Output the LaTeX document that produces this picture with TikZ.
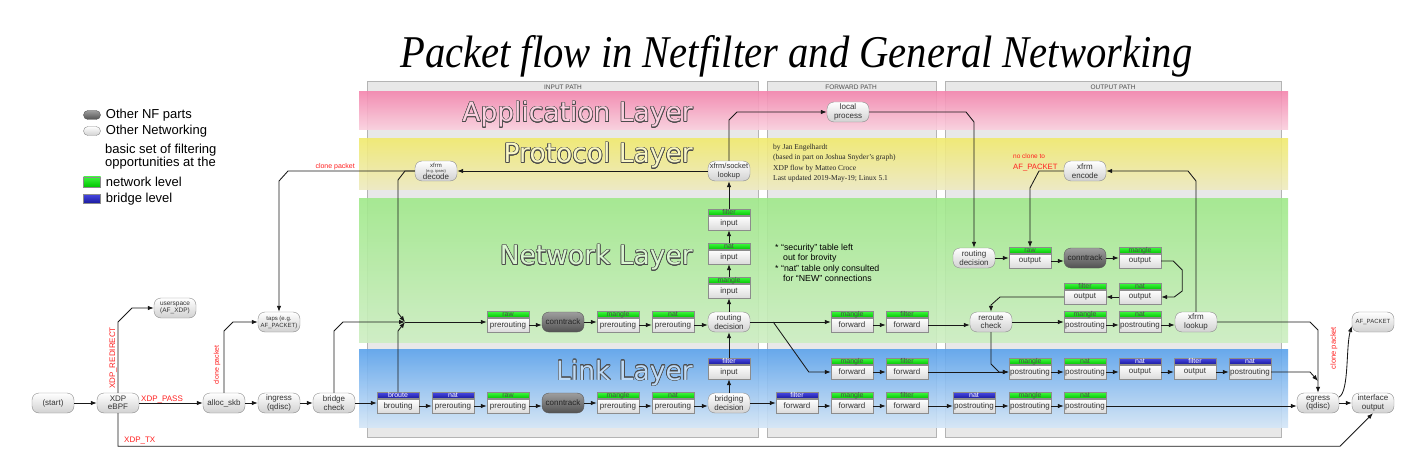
\documentclass[tikz,border=0pt]{standalone}
\usepackage{fontspec}
\setmainfont{Liberation Sans}
\newfontfamily\layerfont{DejaVu Sans}
\newfontfamily\seriffont{Liberation Serif}
\usepackage{graphicx}
\usepackage{contour}
\usepackage{xcolor}
\usepackage{tikz}
\usetikzlibrary{positioning, arrows.meta, calc}
\contourlength{0.6pt}

\definecolor{paneltone}{HTML}{E8E8E8}
\definecolor{panelline}{HTML}{B4B4B4}
\definecolor{apptop}{HTML}{F486AE}
\definecolor{appbot}{HTML}{FAD0DE}
\definecolor{prottop}{HTML}{F0EA6E}
\definecolor{protbot}{HTML}{EEEAC2}
\definecolor{nettop}{HTML}{A0E98A}
\definecolor{netbot}{HTML}{CDEEC2}
\definecolor{linktop}{HTML}{5AA2EC}
\definecolor{linkbot}{HTML}{D4E6F7}
\definecolor{nfgreentop}{HTML}{3CF53C}
\definecolor{nfgreenbot}{HTML}{00C400}
\definecolor{nfbluetop}{HTML}{4646E0}
\definecolor{nfbluebot}{HTML}{18189A}
\definecolor{nodetext}{HTML}{333333}
\definecolor{lblred}{HTML}{FF2020}

\tikzset{
  panel/.style={fill=paneltone, draw=panelline, line width=0.6pt},
  band/.style 2 args={top color=#1, bottom color=#2, fill opacity=0.9, draw=none},
  pathlbl/.style={inner sep=0pt, text=black!70, font=\fontsize{6.5}{6.5}\selectfont},
  layerlbl/.style={anchor=base east, inner sep=0pt, font=\layerfont\fontsize{26.5}{26.5}\selectfont},
  legendtxt/.style={inner sep=0pt, align=left, font=\fontsize{13}{10}\selectfont},
  pillbox/.style={rounded corners=7pt, draw=black!45, top color=white, bottom color=black!18,
    minimum width=42pt, minimum height=20pt, inner sep=0pt, align=center, text=nodetext,
    font=\fontsize{8}{8.5}\selectfont},
  nfpart/.style={pillbox, top color=black!38, bottom color=black!68, draw=black!65, text=black!85},
  tblbody/.style={draw=black!45, top color=white, bottom color=black!14, minimum width=42pt,
    minimum height=14pt, inner sep=0pt, text=nodetext, font=\fontsize{8}{8}\selectfont},
  hdgreen/.style={draw=black!45, top color=nfgreentop, bottom color=nfgreenbot, minimum width=42pt,
    minimum height=6pt, inner sep=0pt, text height=4.5pt, text depth=0.8pt, text=black!70,
    font=\fontsize{7}{7}\selectfont},
  hdblue/.style={hdgreen, top color=nfbluetop, bottom color=nfbluebot, text=white},
  flow/.style={draw=black!90, line width=0.85pt, -{Latex[length=6pt,width=4.5pt]}},
  redlbl/.style={text=lblred, inner sep=0pt, font=\fontsize{8}{8}\selectfont},
  credit/.style={anchor=north west, align=left, inner sep=0pt, text=black!85,
    font=\seriffont\fontsize{7.5}{10.5}\selectfont},
  notes/.style={anchor=north west, align=left, inner sep=0pt, font=\fontsize{8.8}{10.3}\selectfont}
}

% table box: name, centre, header style, header, body
\newcommand{\nftbl}[5]{%
  \node[tblbody] (#1) at ($(#2)+(0,3)$) {#5};
  \node[#3, above=0pt of #1] (#1-h) {#4};}
\newcommand{\hflow}[2]{\draw[flow] (#1.east) -- (#1.east -| #2.west);}

\begin{document}
\begin{tikzpicture}[x=1pt, y=-1pt]
  \useasboundingbox (0,0) rectangle (1412,462);
  \fill[white] (0,0) rectangle (1412,462);

  % title
  \node[anchor=base west, inner sep=0pt] (title) at (400,68)
    {\resizebox{792pt}{32pt}{\seriffont\itshape Packet flow in Netfilter and General Networking}};

  % path panels
  \draw[panel] (367,81) rectangle (758,437);
  \draw[panel] (767,81) rectangle (936,437);
  \draw[panel] (945,81) rectangle (1281,437);
  \node[pathlbl] (inhdr) at (563,87) {INPUT PATH};
  \node[pathlbl] (fwhdr) at (851,87) {FORWARD PATH};
  \node[pathlbl] (outhdr) at (1113,87) {OUTPUT PATH};

  % layer bands
  \path[band={apptop}{appbot}] (359,92) rectangle (1288,130);
  \path[band={prottop}{protbot}] (359,139) rectangle (1288,190);
  \path[band={nettop}{netbot}] (359,199) rectangle (1288,342);
  \path[band={linktop}{linkbot}] (359,349) rectangle (1288,427);
  \node[layerlbl] (applbl) at (693,122) {\contour{black!70}{\textcolor{white!60!apptop}{Application Layer}}};
  \node[layerlbl] (protlbl) at (693,163) {\contour{black!70}{\textcolor{white!60!prottop}{Protocol Layer}}};
  \node[layerlbl] (netlbl) at (693,265) {\contour{black!70}{\textcolor{white!60!nettop}{Network Layer}}};
  \node[layerlbl] (linklbl) at (693,380) {\contour{black!70}{\textcolor{white!60!linktop}{Link Layer}}};

  % legend
  \node[nfpart, minimum width=17pt, minimum height=9pt, rounded corners=4.5pt] (lgnf) at (92,115) {};
  \node[legendtxt, right=5pt of lgnf] (lgnftxt) {Other NF parts};
  \node[pillbox, minimum width=17pt, minimum height=9pt, rounded corners=4.5pt] (lgnet) at (92,131) {};
  \node[legendtxt, right=5pt of lgnet] (lgnettxt) {Other Networking};
  \node[legendtxt, anchor=west] (lgbasic) at (105,157) {basic set of filtering\\opportunities at the};
  \node[hdgreen, minimum width=17pt, minimum height=10pt] (lggreen) at (92,182) {};
  \node[legendtxt, right=5pt of lggreen] (lggreentxt) {network level};
  \node[hdblue, minimum width=17pt, minimum height=9pt] (lgblue) at (92,199) {};
  \node[legendtxt, right=5pt of lgblue] (lgbluetxt) {bridge level};

  % credits and notes
  \node[credit] (credits) at (773,144) {by Jan Engelhardt\\(based in part on Joshua Snyder’s graph)\\XDP flow by Matteo Croce\\Last updated 2019-May-19; Linux 5.1};
  \node[notes] (notes) at (775,244) {* “security” table left\\\hspace*{8pt}out for brovity\\* “nat” table only consulted\\\hspace*{8pt}for “NEW” connections};

  % ingress
  \node[pillbox] (start) at (53,403) {(start)};
  \node[pillbox] (xdp) at (118,403) {XDP\\eBPF};
  \node[pillbox] (allocskb) at (224,403) {alloc\_skb};
  \node[pillbox] (ingress) at (279,403) {ingress\\(qdisc)};
  \node[pillbox] (brcheck) at (334,403) {bridge\\check};
  \node[pillbox, font=\fontsize{6.5}{7}\selectfont] (userspace) at (175,308) {userspace\\(AF\_XDP)};
  \node[pillbox, font=\fontsize{6}{7}\selectfont] (taps) at (279,322) {taps (e.g.\\AF\_PACKET)};

  % application / protocol
  \node[pillbox] (localproc) at (848,112) {local\\process};
  \node[pillbox] (xfrmdec) at (436,171) {\fontsize{6}{6}\selectfont xfrm\\[-3pt] \fontsize{4}{4}\selectfont (e.g. ipsec)\\[-2pt] \fontsize{8}{8}\selectfont decode};
  \node[pillbox, font=\fontsize{7.5}{8.5}\selectfont] (socklookup) at (729,171) {xfrm/socket\\lookup};
  \node[pillbox] (xfrmenc) at (1085,171) {xfrm\\encode};

  % network layer, input
  \coordinate (merge) at (405,322);
  \nftbl{in-raw}{508,322}{hdgreen}{raw}{prerouting}
  \node[nfpart] (in-ct) at (563,322) {conntrack};
  \nftbl{in-mangle}{618,322}{hdgreen}{mangle}{prerouting}
  \nftbl{in-nat}{673,322}{hdgreen}{nat}{prerouting}
  \node[pillbox] (in-route) at (729,322) {routing\\decision};
  \nftbl{in-manglein}{729,288}{hdgreen}{mangle}{input}
  \nftbl{in-natin}{729,254}{hdgreen}{nat}{input}
  \nftbl{in-filterin}{729,220}{hdgreen}{filter}{input}

  % link layer, input
  \nftbl{br-broute}{398,403}{hdblue}{broute}{brouting}
  \nftbl{br-nat}{453,403}{hdblue}{nat}{prerouting}
  \nftbl{br-raw}{508,403}{hdgreen}{raw}{prerouting}
  \node[nfpart] (br-ct) at (563,403) {conntrack};
  \nftbl{br-mangle}{618,403}{hdgreen}{mangle}{prerouting}
  \nftbl{br-nat2}{673,403}{hdgreen}{nat}{prerouting}
  \node[pillbox] (br-decision) at (729,403) {bridging\\decision};
  \nftbl{br-filterin}{729,369}{hdblue}{filter}{input}

  % forward
  \nftbl{fw-mangle}{852,322}{hdgreen}{mangle}{forward}
  \nftbl{fw-filter}{907,322}{hdgreen}{filter}{forward}
  \nftbl{fwl-mangle}{852,369}{hdgreen}{mangle}{forward}
  \nftbl{fwl-filter}{907,369}{hdgreen}{filter}{forward}
  \nftbl{fwb-filter}{797,403}{hdblue}{filter}{forward}
  \nftbl{fwb-mangle}{852,403}{hdgreen}{mangle}{forward}
  \nftbl{fwb-filter2}{907,403}{hdgreen}{filter}{forward}

  % network layer, output
  \node[pillbox] (out-route) at (974,258) {routing\\decision};
  \nftbl{out-raw}{1030,258}{hdgreen}{raw}{output}
  \node[nfpart] (out-ct) at (1085,258) {conntrack};
  \nftbl{out-mangle}{1140,258}{hdgreen}{mangle}{output}
  \nftbl{out-nat}{1140,294}{hdgreen}{nat}{output}
  \nftbl{out-filter}{1085,294}{hdgreen}{filter}{output}
  \node[pillbox] (reroute) at (991,322) {reroute\\check};
  \nftbl{post-mangle}{1085,322}{hdgreen}{mangle}{postrouting}
  \nftbl{post-nat}{1140,322}{hdgreen}{nat}{postrouting}
  \node[pillbox] (xfrmlook) at (1196,322) {xfrm\\lookup};

  % link layer, output
  \nftbl{lo-mangle}{1030,369}{hdgreen}{mangle}{postrouting}
  \nftbl{lo-nat}{1085,369}{hdgreen}{nat}{postrouting}
  \nftbl{lo-natout}{1140,369}{hdblue}{nat}{output}
  \nftbl{lo-filterout}{1195,369}{hdblue}{filter}{output}
  \nftbl{lo-natpost}{1250,369}{hdblue}{nat}{postrouting}
  \nftbl{lb-nat}{974,403}{hdblue}{nat}{postrouting}
  \nftbl{lb-mangle}{1030,403}{hdgreen}{mangle}{postrouting}
  \nftbl{lb-nat2}{1085,403}{hdgreen}{nat}{postrouting}
  \node[pillbox] (egress) at (1318,403) {egress\\(qdisc)};
  \node[pillbox] (ifout) at (1373,403) {interface\\output};
  \node[pillbox, font=\fontsize{6}{7}\selectfont] (afpacket) at (1373,322) {AF\_PACKET};

  % red labels
  \node[redlbl, anchor=base west] (passlbl) at (141,401) {XDP\_PASS};
  \node[redlbl, rotate=90] (redirlbl) at (113,358) {XDP\_REDIRECT};
  \node[redlbl, anchor=base west] (txlbl) at (124,442) {XDP\_TX};
  \node[redlbl, rotate=90, font=\fontsize{7}{7}\selectfont] (clonea) at (217,365) {clone packet};
  \node[redlbl, anchor=east, font=\fontsize{7}{7}\selectfont] (cloneb) at (355,167) {clone packet};
  \node[redlbl, rotate=90, font=\fontsize{7.5}{7.5}\selectfont] (clonec) at (1334,348) {clone packet};
  \node[redlbl, anchor=base west, font=\fontsize{6.5}{6.5}\selectfont] (noclone) at (1013,159) {no clone to};
  \node[redlbl, anchor=base west, font=\fontsize{7.7}{7.7}\selectfont] (noclonepkt) at (1013,170) {AF\_PACKET};

  % ingress connectors
  \hflow{start}{xdp}
  \hflow{xdp}{allocskb}
  \hflow{allocskb}{ingress}
  \hflow{ingress}{brcheck}
  \draw[flow] (xdp.north) -- ($(xdp.north |- userspace.west)+(0,14)$) -- ($(xdp.north |- userspace.west)+(14,0)$) -- (userspace.west);
  \draw[flow] (xdp.south) -- ($(xdp.south |- ifout.south)+(0,33)$) -- ($(ifout.south)+(-33,33)$) -- (ifout.south);
  \draw[flow] (allocskb.north) -- ($(allocskb.north |- taps.west)+(0,9)$) -- ($(allocskb.north |- taps.west)+(9,0)$) -- (taps.west);
  \draw[flow] (xfrmdec.west) -- ($(taps.north |- xfrmdec.west)+(9,0)$) -- ($(taps.north |- xfrmdec.west)+(0,10)$) -- (taps.north);
  \draw[flow] (xfrmdec.west) -- (merge |- xfrmdec.west) -- ($(merge |- xfrmdec.west)+(-7,9)$) -- ($(merge)+(-7,-9)$) -- (merge);
  \draw[flow] (brcheck.north) -- ($(brcheck.north |- merge)+(0,9)$) -- ($(brcheck.north |- merge)+(9,0)$) -- (merge);
  \draw[flow] (br-broute-h.north) -- ($(merge)+(-7,9)$) -- (merge);

  % input path
  \draw[flow] (merge) -- (merge -| in-raw.west);
  \hflow{in-raw}{in-ct}
  \hflow{in-ct}{in-mangle}
  \hflow{in-mangle}{in-nat}
  \hflow{in-nat}{in-route}
  \draw[flow] (in-route.north) -- (in-manglein.south);
  \draw[flow] (in-manglein-h.north) -- (in-natin.south);
  \draw[flow] (in-natin-h.north) -- (in-filterin.south);
  \draw[flow] (in-filterin-h.north) -- (socklookup.south);
  \draw[flow] (socklookup.west) -- (xfrmdec.east);
  \draw[flow] (socklookup.north) -- ($(socklookup.north |- localproc.west)+(0,8)$) -- ($(socklookup.north |- localproc.west)+(8,0)$) -- (localproc.west);
  \draw[flow] (localproc.east) -- ($(out-route.north |- localproc.east)+(-8,0)$) -- ($(out-route.north |- localproc.east)+(0,10)$) -- (out-route.north);
  \hflow{brcheck}{br-broute}
  \hflow{br-broute}{br-nat}
  \hflow{br-nat}{br-raw}
  \hflow{br-raw}{br-ct}
  \hflow{br-ct}{br-mangle}
  \hflow{br-mangle}{br-nat2}
  \hflow{br-nat2}{br-decision}
  \draw[flow] (br-decision.north) -- (br-filterin.south);
  \draw[flow] (br-filterin-h.north) -- (in-route.south);

  % forward path
  \hflow{in-route}{fw-mangle}
  \coordinate (fwsplit) at ($(in-route.east)+(23,0)$);
  \draw[flow] (fwsplit) -- ($(fwl-mangle.west)+(-22,0)$) -- (fwl-mangle.west);
  \hflow{fw-mangle}{fw-filter}
  \hflow{fw-filter}{reroute}
  \hflow{fwl-mangle}{fwl-filter}
  \hflow{fwl-filter}{lo-mangle}
  \hflow{br-decision}{fwb-filter}
  \hflow{fwb-filter}{fwb-mangle}
  \hflow{fwb-mangle}{fwb-filter2}
  \hflow{fwb-filter2}{lb-nat}

  % output path
  \hflow{out-route}{out-raw}
  \hflow{out-raw}{out-ct}
  \hflow{out-ct}{out-mangle}
  \draw[flow] (out-mangle.east) -- ++(12,0) -- ++(9,9) -- ($(out-nat.east)+(21,-6)$) -- ($(out-nat.east)+(13,0)$) -- (out-nat.east);
  \draw[flow] (out-nat.west) -- (out-filter.east);
  \draw[flow] (out-filter.west) -- ($(reroute.north |- out-filter.west)+(9,0)$) -- ($(reroute.north |- out-filter.west)+(0,8)$) -- (reroute.north);
  \draw[flow] (xfrmenc.west) -- ($(out-raw-h.north |- xfrmenc.west)+(9,0)$) -- ($(out-raw-h.north |- xfrmenc.west)+(0,17)$) -- (out-raw-h.north);
  \hflow{reroute}{post-mangle}
  \hflow{post-mangle}{post-nat}
  \hflow{post-nat}{xfrmlook}
  \draw[flow] (xfrmlook.north) -- ($(xfrmlook.north |- xfrmenc.east)+(0,10)$) -- ($(xfrmlook.north |- xfrmenc.east)+(-8,0)$) -- (xfrmenc.east);
  \draw[flow] (reroute.south) -- ($(reroute.south |- lo-mangle.west)+(0,-8)$) -- ($(reroute.south |- lo-mangle.west)+(8,0)$) -- (lo-mangle.west);
  \hflow{lo-mangle}{lo-nat}
  \hflow{lo-nat}{lo-natout}
  \hflow{lo-natout}{lo-filterout}
  \hflow{lo-filterout}{lo-natpost}
  \hflow{lb-nat}{lb-mangle}
  \hflow{lb-mangle}{lb-nat2}
  \hflow{lb-nat2}{egress}
  \draw[flow] (lo-natpost.east) -- ($(egress.north |- lo-natpost.east)+(-8,0)$) -- ($(egress.north |- lo-natpost.east)+(0,9)$);
  \draw[flow] (xfrmlook.east) -- ($(egress.north |- xfrmlook.east)+(-8,0)$) -- ($(egress.north |- xfrmlook.east)+(0,8)$) -- (egress.north);
  \hflow{egress}{ifout}
  \draw[flow] ($(egress.east)+(0,-6)$) .. controls +(10,-6) and +(-6,20) .. ($(afpacket.west)+(0,4)$);
\end{tikzpicture}
\end{document}
